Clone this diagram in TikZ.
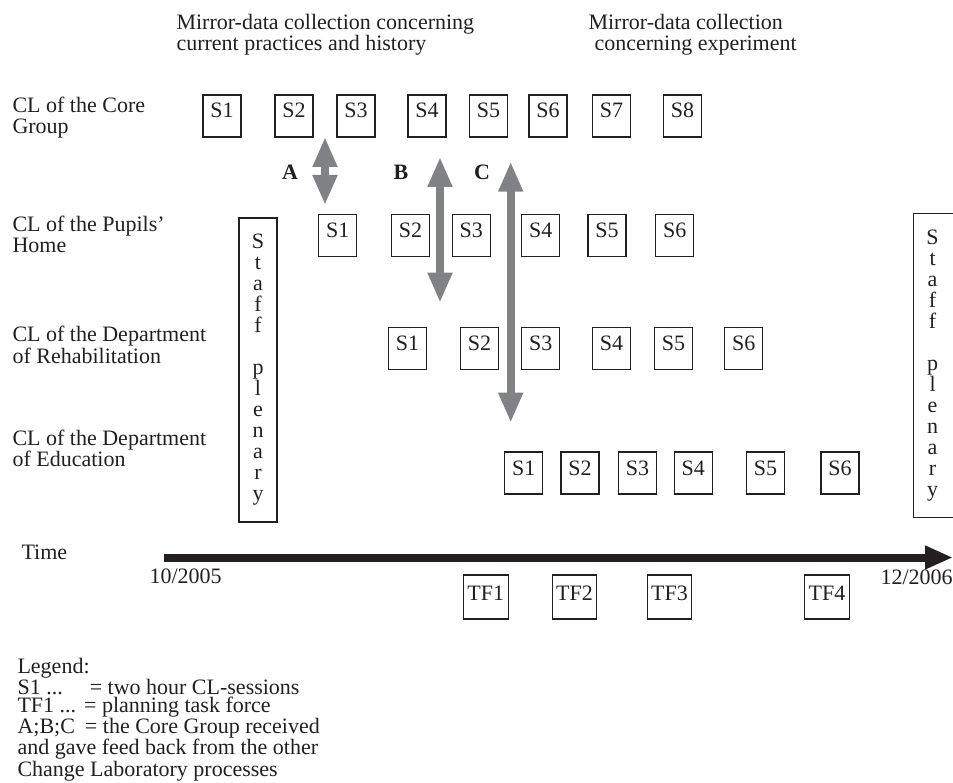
\documentclass[tikz,border=0pt]{standalone}
\usepackage{fontspec}
\setmainfont{Liberation Serif}
\usetikzlibrary{arrows.meta}
\definecolor{ink}{RGB}{35,31,32}
\definecolor{feedgray}{RGB}{128,130,133}
\newcommand{\staffcol}{\parbox{16pt}{\centering S\\t\\a\\f\\f\\\mbox{}\\p\\l\\e\\n\\a\\r\\y}}
\begin{document}
\begin{tikzpicture}[x=1pt, y=-1pt,
    every node/.style={font=\fontsize{22}{21}\selectfont, text=ink},
    sess/.style={draw=ink, line width=1.2pt, inner sep=0pt, minimum width=38pt, text height=23pt, text depth=19pt},
    task/.style={sess, inner xsep=4pt, text height=25pt},
    staffbox/.style={draw=ink, line width=1.2pt, inner xsep=11pt, inner ysep=0pt, minimum height=304pt},
    feed/.style={draw=feedgray, line width=8pt, {Triangle[length=30pt,width=23pt]}-{Triangle[length=30pt,width=23pt]}},
    lbl/.style={anchor=base west, align=left}]
      \useasboundingbox (0,0) rectangle (953,783);

      \node[lbl] (hdl) at (173,51) {Mirror-data collection concerning\\current practices and history};
      \node[lbl] (hdr) at (585,51) {Mirror-data collection\\\hspace*{6pt}concerning experiment};

      \node[lbl] (rcore) at (9,134) {CL of the Core\\Group};
      \node[lbl] (rpup) at (9,253) {CL of the Pupils'\\Home};
      \node[lbl] (rreh) at (9,363) {CL of the Department\\of Rehabilitation};
      \node[lbl] (redu) at (9,466) {CL of the Department\\of Education};

      \node[sess] (c1) at (222,116) {S1};
      \node[sess] (c2) at (294,116) {S2};
      \node[sess] (c3) at (356,116) {S3};
      \node[sess] (c4) at (427,116) {S4};
      \node[sess] (c5) at (488.5,116) {S5};
      \node[sess] (c6) at (548,116) {S6};
      \node[sess] (c7) at (611.5,116) {S7};
      \node[sess] (c8) at (682.5,116) {S8};

      \node[sess] (p1) at (337.7,235.5) {S1};
      \node[sess] (p2) at (410.5,235.5) {S2};
      \node[sess] (p3) at (471.3,235.5) {S3};
      \node[sess] (p4) at (540.8,235.5) {S4};
      \node[sess] (p5) at (606.9,235.5) {S5};
      \node[sess] (p6) at (674.8,235.5) {S6};

      \node[sess] (r1) at (407.6,348.5) {S1};
      \node[sess] (r2) at (479.5,348.5) {S2};
      \node[sess] (r3) at (540.8,348.5) {S3};
      \node[sess] (r4) at (611.6,348.5) {S4};
      \node[sess] (r5) at (673.4,348.5) {S5};
      \node[sess] (r6) at (743.8,348.5) {S6};

      \node[sess] (e1) at (523.8,473) {S1};
      \node[sess] (e2) at (579.9,473) {S2};
      \node[sess] (e3) at (637.5,473) {S3};
      \node[sess] (e4) at (693.2,473) {S4};
      \node[sess] (e5) at (765.5,473) {S5};
      \node[sess] (e6) at (840,473) {S6};

      \node[staffbox] (staffL) at (258,370) {\staffcol};
      \node[staffbox, anchor=north west] (staffR) at (913,213) {\staffcol\hspace*{10pt}};

      \coordinate (a1) at (325,137);
      \coordinate (a2) at (325,205);
      \coordinate (b1) at (440,157);
      \coordinate (b2) at (440,302.7);
      \coordinate (k1) at (510.7,161.7);
      \coordinate (k2) at (510.7,422.7);
      \draw[feed] (a1)--(a2);
      \draw[feed] (b1)--(b2);
      \draw[feed] (k1)--(k2);
      \node[anchor=base, font=\fontsize{22}{21}\selectfont\bfseries] (la) at (290,180) {A};
      \node[anchor=base, font=\fontsize{22}{21}\selectfont\bfseries] (lb) at (401,180) {B};
      \node[anchor=base, font=\fontsize{22}{21}\selectfont\bfseries] (lc) at (482,180) {C};

      \coordinate (t0) at (164,557.5);
      \coordinate (t1) at (953,557.5);
      \draw[ink, line width=8pt, -{Triangle[length=28pt,width=22pt]}] (t0)--(t1);
      \node[lbl] (time) at (18,559) {Time};
      \node[lbl] (start) at (146,583.5) {10/2005};
      \node[lbl] (end) at (877,584) {12/2006};

      \node[task] (tf1) at (485.8,597) {TF1};
      \node[task] (tf2) at (574.5,597) {TF2};
      \node[task] (tf3) at (669.5,597) {TF3};
      \node[task] (tf4) at (827,597) {TF4};

      \node[lbl, font=\fontsize{22}{18.5}\selectfont] (legend) at (14,776) {Legend:\\S1 ...\hspace*{27pt}= two hour CL-sessions\\TF1 ...\hspace*{8pt}= planning task force\\A;B;C\hspace*{10pt}= the Core Group received\\and gave feed back from the other\\Change Laboratory processes};
    \end{tikzpicture}
\end{document}
